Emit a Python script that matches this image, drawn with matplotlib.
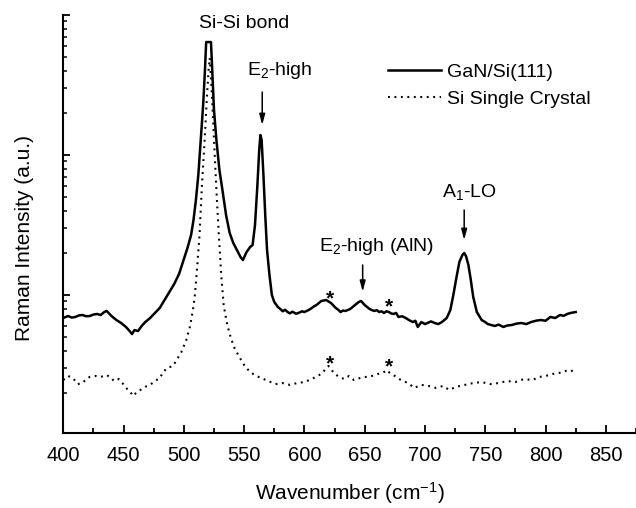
import matplotlib
matplotlib.use("Agg")
import matplotlib.pyplot as plt
from matplotlib.ticker import LogLocator, NullFormatter, MultipleLocator

plt.rcParams['font.family'] = ['Liberation Sans', 'DejaVu Sans']
plt.rcParams['mathtext.fontset'] = 'custom'
plt.rcParams['mathtext.rm'] = 'Liberation Sans'
plt.rcParams['mathtext.it'] = 'Liberation Sans:italic'
plt.rcParams['mathtext.bf'] = 'Liberation Sans:bold'

# GaN/Si(111) spectrum (solid)
wn_gan = [400, 404, 407, 410, 413, 416, 419, 422, 425, 428, 431, 434, 436, 440, 444, 448,
          452, 455, 457, 459, 462, 465, 468, 472, 476, 480, 484, 488, 492, 496, 500, 503,
          506, 508, 510, 512, 514, 516, 517.5, 518.5, 520, 521.5, 522.5, 523.5, 525,
          527, 529.5, 532, 535, 538, 541, 544, 547, 549, 552, 555, 557, 559, 561, 562.5,
          563.5, 564.5, 566, 567.5, 569, 571, 573, 575, 578, 580, 582, 584, 586, 588,
          590, 593, 595, 598, 600, 603, 605, 608, 610, 614, 618, 622, 626, 628, 630,
          632, 634, 638, 642, 645, 647, 650, 654, 656, 658, 660, 662, 664, 666, 668,
          670, 672, 674, 676, 678, 681, 684, 687, 690, 692, 694, 697, 700, 702, 705,
          708, 711, 714, 718, 721, 723.5, 726, 728.5, 731, 732.5, 734, 736, 738, 740,
          743, 747, 750, 752, 755, 758, 761, 765, 768, 772, 776, 780, 784, 788, 792,
          796, 800, 804, 808, 812, 815, 818, 821, 825]
int_gan = [68.5, 70.8, 69.0, 69.7, 71.5, 72.0, 70.5, 70.8, 72.5, 73.2, 72.0, 75.6, 76.9,
           70.8, 66.3, 63.1, 59.1, 55.3, 52.6, 56.2, 55.3, 60.1, 64.1, 68.5, 74.4, 80.8,
           92.1, 105.1, 119.9, 141.2, 180.8, 216.8, 268.3, 343.3, 477.1, 719.7, 1280,
           2276, 4047, 6413, 6413, 6413, 6413, 4047, 2096, 1280, 781.4, 562.3, 372.8,
           277.6, 235.2, 209.6, 186.8, 177.8, 202.8, 220.3, 227.6, 316.2, 610.5, 1086,
           1389, 1280, 719.7, 372.8, 209.6, 138.9, 100.0, 89.1, 82.1, 79.5, 76.5, 78.5,
           75.6, 74.0, 76.0, 73.5, 74.4, 76.5, 75.6, 77.8, 79.5, 83.0, 84.8, 90.6, 92.1,
           87.7, 80.8, 78.5, 75.5, 77.5, 76.9, 79.5, 84.8, 89.1, 90.6, 84.8, 79.5, 78.0,
           76.9, 78.0, 75.6, 76.5, 74.4, 76.5, 75.6, 73.8, 73.2, 74.5, 69.7, 70.5, 68.5,
           66.0, 64.1, 65.5, 59.1, 64.1, 62.0, 63.1, 64.8, 63.1, 62.0, 64.1, 68.5, 78.1,
           100.0, 132.3, 172.1, 193.1, 199.5, 189.9, 163.8, 128.0, 96.8, 75.6, 66.3,
           64.0, 62.1, 61.0, 60.1, 61.5, 59.1, 60.5, 61.1, 62.5, 63.1, 62.0, 64.1, 65.5,
           66.3, 65.5, 69.7, 68.5, 72.0, 71.0, 73.2, 74.5, 75.6]

# Si single crystal spectrum (dotted)
wn_si = [400, 404, 408, 412, 416, 419, 422, 427, 431, 436, 440, 442, 446, 449, 452, 455,
         458, 461, 464, 468, 472, 476, 480, 483, 486, 491, 495, 498, 502, 505, 507.5,
         509, 511, 513, 515, 517, 519, 520.5, 521.5, 523.5, 525, 527, 529, 531, 533,
         536, 539, 542, 546, 551, 556, 562, 570, 576, 582, 588, 594, 600, 606, 611,
         615, 618, 620, 622, 625, 629, 633, 637, 641, 646, 651, 656, 661, 665, 668,
         671, 675, 680, 686, 691, 697, 703, 709, 715, 720, 726, 733, 740, 747, 754,
         761, 768, 775, 782, 789, 795, 800, 806, 811, 816, 820, 825]
int_si = [24.7, 26.4, 25.5, 23.1, 23.5, 25.1, 26.0, 26.4, 26.0, 26.8, 25.5, 24.3, 25.1,
          23.5, 21.7, 20.6, 19.0, 20.3, 21.0, 22.1, 22.8, 24.3, 25.5, 28.2, 30.1, 31.1,
          35.5, 39.2, 47.7, 59.1, 78.1, 96.8, 155.9, 268.3, 610.5, 1179, 2471, 4047,
          4931, 2471, 1280, 562.3, 268.3, 138.9, 84.8, 61.1, 49.3, 41.8, 36.1, 30.6,
          27.7, 26.0, 24.3, 23.1, 23.5, 22.8, 23.5, 23.9, 25.1, 26.4, 27.7, 30.1, 31.1,
          29.6, 27.3, 26.0, 25.1, 26.4, 24.7, 25.5, 26.0, 26.4, 27.3, 27.7, 29.1, 27.7,
          26.4, 24.7, 23.5, 21.7, 22.8, 22.4, 21.7, 22.4, 21.0, 22.1, 22.8, 23.5, 23.9,
          23.1, 23.5, 24.3, 23.9, 25.1, 24.7, 26.0, 26.4, 27.3, 27.7, 28.7, 28.2, 29.6]

series_labels = ['GaN/Si(111)', 'Si Single Crystal']

fig = plt.figure(figsize=(6.36, 5.08), dpi=100)
ax = fig.add_axes([0.0995, 0.147, 0.9005, 0.8234])

ax.plot(wn_gan, int_gan, color='black', lw=1.8, label=series_labels[0])
ax.plot(wn_si, int_si, color='black', lw=1.5, linestyle=(0, (0.9, 2.2)),
        label=series_labels[1])

ax.set_yscale('log')
ax.set_xlim(400, 875)
ax.set_ylim(10.28, 10000)

ax.spines['top'].set_visible(False)
ax.spines['right'].set_visible(False)
ax.spines['left'].set_linewidth(1.5)
ax.spines['bottom'].set_linewidth(1.5)

ax.xaxis.set_major_locator(MultipleLocator(50))
ax.xaxis.set_minor_locator(MultipleLocator(25))
ax.yaxis.set_major_locator(LogLocator(base=10))
ax.yaxis.set_minor_locator(LogLocator(base=10, subs=range(2, 10)))
ax.yaxis.set_major_formatter(NullFormatter())
ax.yaxis.set_minor_formatter(NullFormatter())

ax.tick_params(axis='x', which='major', direction='in', length=5.8, width=1.3,
               labelsize=14.5, pad=9)
ax.tick_params(axis='x', which='minor', direction='in', length=3.3, width=1.3)
ax.tick_params(axis='y', which='major', direction='in', length=5.2, width=1.3)
ax.tick_params(axis='y', which='minor', direction='in', length=3.0, width=1.1)

fig.text(25 / 636, 1 - 238 / 508, 'Raman Intensity (a.u.)', rotation=90,
         ha='center', va='center', fontsize=15)
fig.text(350 / 636, 1 - 493 / 508, r'Wavenumber (cm$^{\mathregular{-1}}$)',
         ha='center', va='center', fontsize=15)

leg = ax.legend(frameon=False, fontsize=14, handlelength=2.7, handletextpad=0.35,
                labelspacing=0.5, borderpad=0, borderaxespad=0, loc='upper left',
                bbox_to_anchor=(388 / 636, 1 - 63 / 508), bbox_transform=fig.transFigure)

txt_kw = dict(ha='center', va='center', fontsize=14)
ax.text(549.8, 8770, 'Si-Si bond', **txt_kw)
ax.text(579.7, 4047, r'E$_{\mathregular{2}}$-high', **txt_kw)
ax.text(659.9, 221, r'E$_{\mathregular{2}}$-high (AlN)', **txt_kw)
ax.text(737.2, 547, r'A$_{\mathregular{1}}$-LO', **txt_kw)

arrow_kw = dict(arrowstyle='-|>,head_length=0.45,head_width=0.12', color='black',
                lw=1.1, shrinkA=0, shrinkB=0, mutation_scale=14)
ax.annotate('', xy=(565.0, 1638), xytext=(565.0, 2818), arrowprops=arrow_kw)
ax.annotate('', xy=(648.3, 105.6), xytext=(648.3, 163.8), arrowprops=arrow_kw)
ax.annotate('', xy=(732.5, 247.1), xytext=(732.5, 404.7), arrowprops=arrow_kw)

star_pts = [(621.3, 102.8), (670.1, 89.6), (621.3, 35.3), (670.3, 33.4)]
for sx, sy in star_pts:
    ax.annotate('*', xy=(sx, sy), xytext=(0, -8), textcoords='offset points',
                ha='center', va='baseline', fontsize=15, fontweight='bold')

fig.savefig('out.png', dpi=100)
